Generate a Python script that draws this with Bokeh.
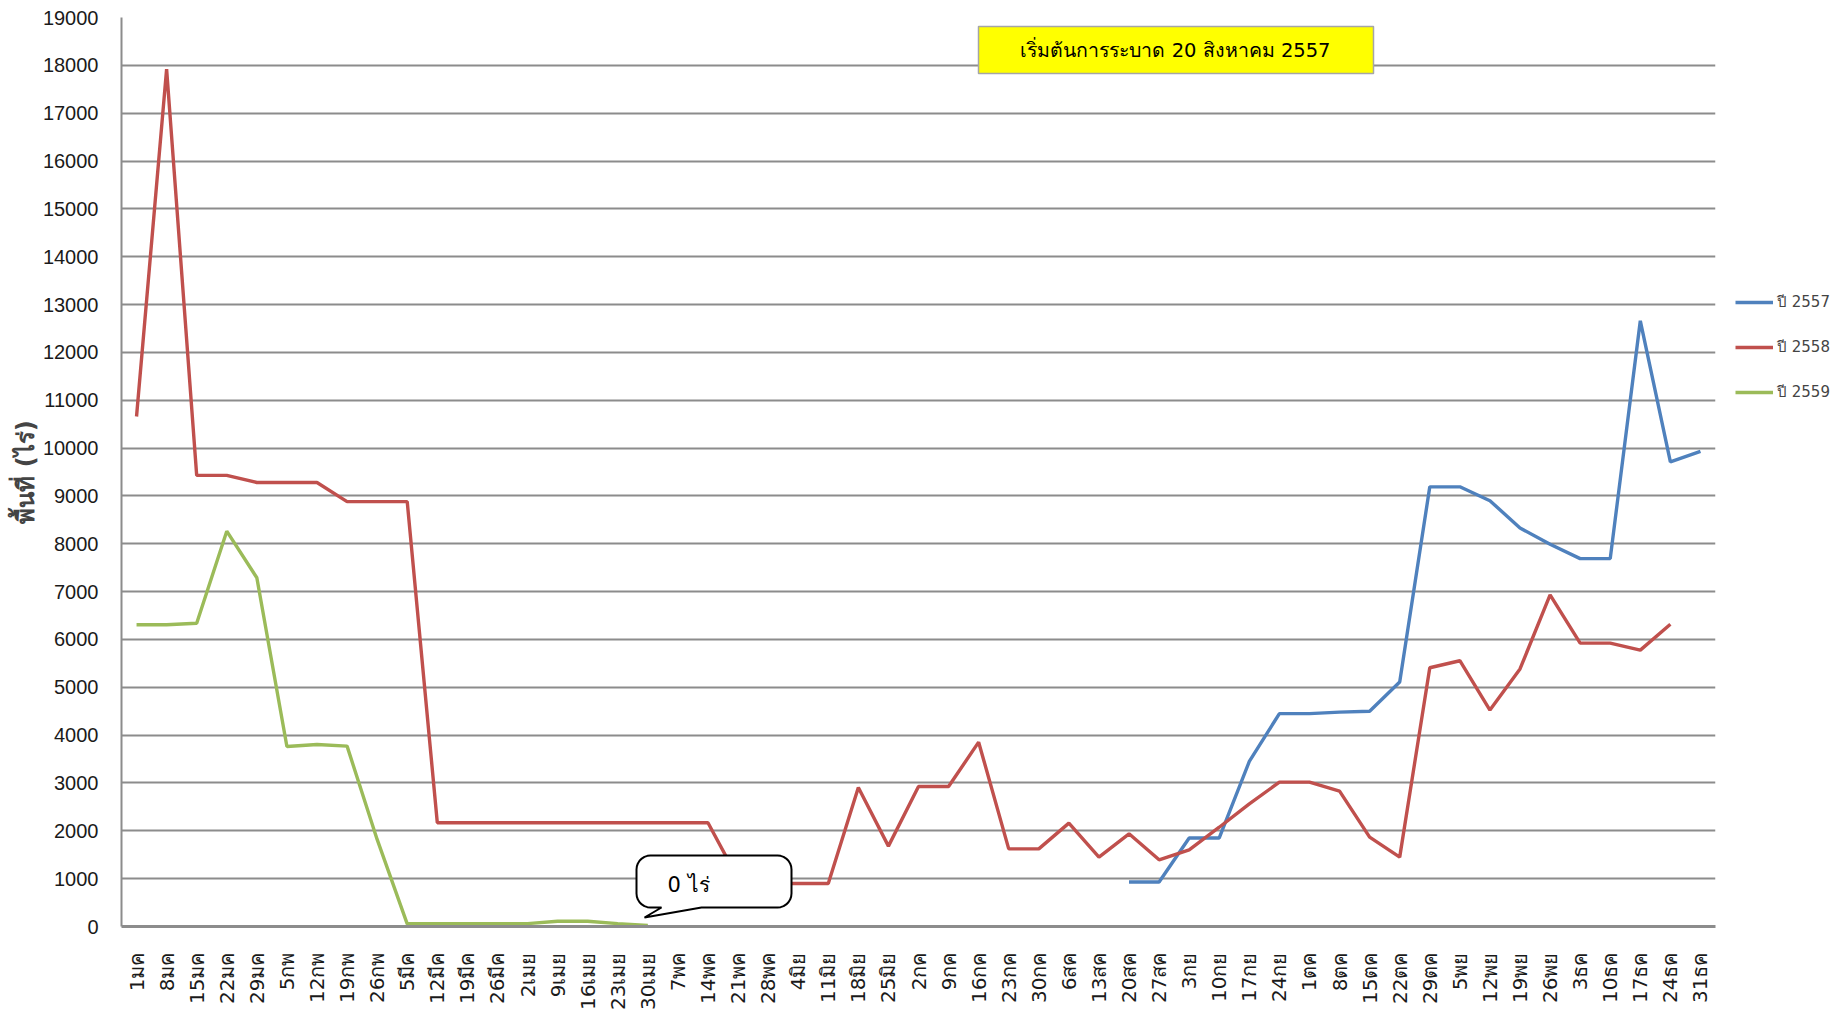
import numpy as np
from bokeh.plotting import figure
from bokeh.models import (FactorRange, Range1d, SingleIntervalTicker, Legend, LegendItem,
                          Label, BoxAnnotation, PolyAnnotation, ColumnDataSource)
from bokeh.embed import file_html
from bokeh.resources import INLINE

nan = float("nan")

weeks = ["1มค", "8มค", "15มค", "22มค", "29มค", "5กพ", "12กพ", "19กพ", "26กพ",
         "5มีค", "12มีค", "19มีค", "26มีค", "2เมย", "9เมย", "16เมย", "23เมย", "30เมย",
         "7พค", "14พค", "21พค", "28พค", "4มิย", "11มิย", "18มิย", "25มิย",
         "2กค", "9กค", "16กค", "23กค", "30กค", "6สค", "13สค", "20สค", "27สค",
         "3กย", "10กย", "17กย", "24กย", "1ตค", "8ตค", "15ตค", "22ตค", "29ตค",
         "5พย", "12พย", "19พย", "26พย", "3ธค", "10ธค", "17ธค", "24ธค", "31ธค"]

y2557 = [nan] * 33 + [930, 930, 1850, 1850, 3450, 4450, 4450, 4480, 4500, 5110,
                      9190, 9190, 8900, 8330, 7990, 7690, 7690, 12660, 9710, 9930]

y2558 = [10660, 17920, 9430, 9430, 9280, 9280, 9280, 8880, 8880, 8880,
         2170, 2170, 2170, 2170, 2170, 2170, 2170, 2170, 2170, 2170,
         1000, 900, 900, 900, 2905, 1680, 2926, 2926, 3853, 1623,
         1623, 2160, 1450, 1937, 1394, 1603, 2075, 2565, 3017, 3017,
         2829, 1868, 1450, 5408, 5555, 4523, 5383, 6932, 5924, 5924,
         5777, 6318, nan]

y2559 = [6306, 6306, 6340, 8263, 7289, 3762, 3804, 3770, 1820, 56,
         56, 56, 56, 60, 110, 110, 60, 20] + [nan] * 35

series_names = ["ปี 2557", "ปี 2558", "ปี 2559"]
series_colors = ["#4F81BD", "#C0504D", "#9BBB59"]
y_ticks_interval = 1000
y_max = 19000

title_text = "เริ่มต้นการระบาด 20 สิงหาคม 2557"
callout_text = "0 ไร่"
y_title = "พื้นที่ (ไร่)"

FONT = "Tahoma, 'DejaVu Sans', 'Liberation Sans', sans-serif"

p = figure(x_range=FactorRange(factors=weeks, range_padding=0),
           y_range=Range1d(0, y_max),
           frame_width=1594, frame_height=909,
           min_border_left=121, min_border_right=112, min_border_top=17, min_border_bottom=77,
           output_backend="svg", toolbar_location=None)
p.outline_line_color = None
p.background_fill_color = "white"

# grid
p.xgrid.grid_line_color = None
p.ygrid.grid_line_color = "#8C8C8C"
p.ygrid.grid_line_width = 2
p.yaxis.ticker = SingleIntervalTicker(interval=y_ticks_interval)

# axes
for ax in (p.xaxis[0], p.yaxis[0]):
    ax.axis_line_color = "#8C8C8C"
    ax.axis_line_width = 2
    ax.major_tick_line_color = None
    ax.minor_tick_line_color = None
    ax.major_tick_out = 0
    ax.major_tick_in = 0
    ax.major_label_text_font = "Liberation Sans"
    ax.major_label_text_color = "#1a1a1a"

p.yaxis.major_label_text_font_size = "20px"
p.yaxis.major_label_standoff = 19
p.yaxis.axis_label = y_title
p.yaxis.axis_label_text_font = FONT
p.yaxis.axis_label_text_font_style = "bold"
p.yaxis.axis_label_text_font_size = "24px"
p.yaxis.axis_label_standoff = 0

p.xaxis.major_label_orientation = np.pi / 2
p.xaxis.major_label_text_font_size = "20px"
p.xaxis.major_label_text_font = FONT
p.xaxis.major_label_standoff = 26
p.xaxis.axis_line_width = 3

renderers = []
for name, ys, col in zip(series_names, [y2557, y2558, y2559], series_colors):
    src = ColumnDataSource(dict(x=weeks, y=ys))
    r = p.line("x", "y", source=src, line_color=col, line_width=3.4)
    renderers.append(r)

legend = Legend(items=[LegendItem(label=n, renderers=[r]) for n, r in zip(series_names, renderers)],
                location=(20, 522), orientation="vertical",
                glyph_width=38, glyph_height=20, label_height=20, spacing=21,
                padding=0, margin=0, label_standoff=4,
                label_text_font=FONT, label_text_font_size="15px",
                border_line_color=None, background_fill_alpha=0)
p.add_layout(legend, "right")

# title box
p.add_layout(BoxAnnotation(left=857, right=1252, top=900, bottom=853,
                           left_units="screen", right_units="screen",
                           top_units="screen", bottom_units="screen",
                           fill_color="#FFFF00", fill_alpha=1,
                           line_color="#A6A6A6", line_alpha=1, line_width=1.5))
p.add_layout(Label(x=1054, y=876, x_units="screen", y_units="screen", text=title_text,
                   text_align="center", text_baseline="middle",
                   text_font=FONT, text_font_size="19.5px", text_color="black"))

# callout bubble (rounded rectangle with tail), in screen units relative to frame
L, R, T, B, rad = 635 - 120, 790 - 120, 926 - 855, 926 - 907, 14
pts = []
def arc(cx, cy, a0, a1):
    for a in np.linspace(a0, a1, 8):
        pts.append((cx + rad * np.cos(a), cy + rad * np.sin(a)))
arc(R - rad, T - rad, 0, np.pi / 2)
arc(L + rad, T - rad, np.pi / 2, np.pi)
arc(L + rad, B + rad, np.pi, 1.5 * np.pi)
pts.append((660 - 120, B))
pts.append((643 - 120, 926 - 917))
pts.append((700 - 120, B))
arc(R - rad, B + rad, 1.5 * np.pi, 2 * np.pi)
p.add_layout(PolyAnnotation(xs=[a for a, b in pts], ys=[b for a, b in pts],
                            xs_units="screen", ys_units="screen",
                            fill_color="white", fill_alpha=1,
                            line_color="black", line_alpha=1, line_width=2))
p.add_layout(Label(x=666 - 120, y=926 - 884, x_units="screen", y_units="screen", text=callout_text,
                   text_align="left", text_baseline="middle",
                   text_font=FONT, text_font_size="21px", text_color="black"))

open("out.html", "w").write(file_html(p, INLINE))
